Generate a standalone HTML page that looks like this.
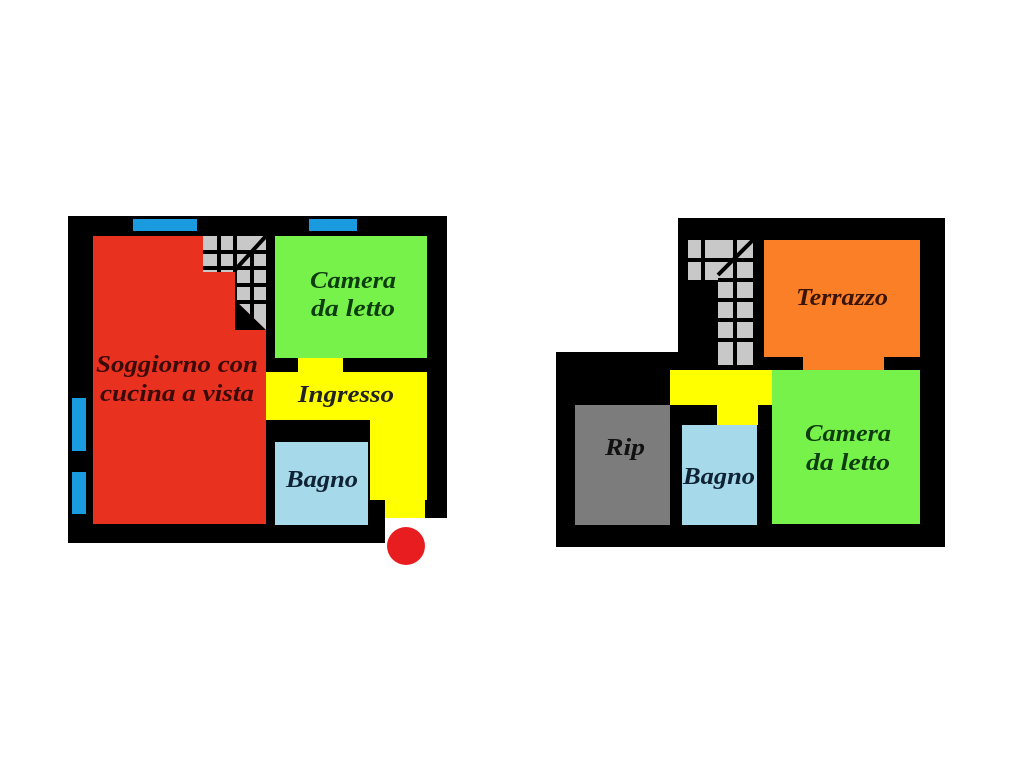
<!DOCTYPE html>
<html><head><meta charset="utf-8"><style>
html,body{margin:0;padding:0;background:#fff;}
svg{display:block}
text{font-family:"Liberation Serif",serif;font-weight:bold;font-style:italic;font-size:24px;text-anchor:middle}
</style></head><body>
<svg width="1024" height="768" viewBox="0 0 1024 768" xmlns="http://www.w3.org/2000/svg">
<rect width="1024" height="768" fill="#fff"/>
<!-- LEFT PLAN -->
<polygon points="68,216 447,216 447,518 423,518 423,500 385,500 385,543 68,543" fill="#000"/>
<rect x="385" y="500" width="40" height="18" fill="#ffff00"/>
<rect x="203" y="236" width="63" height="94" fill="#c8c8c8"/>
<g stroke="#000" stroke-width="4">
<line x1="203" y1="252" x2="266" y2="252"/><line x1="203" y1="268" x2="266" y2="268"/>
<line x1="235" y1="285" x2="266" y2="285"/><line x1="235" y1="302" x2="266" y2="302"/>
<line x1="219" y1="236" x2="219" y2="272"/><line x1="235" y1="236" x2="235" y2="330"/><line x1="252" y1="252" x2="252" y2="330"/>
<line x1="266" y1="236" x2="235" y2="270"/>
</g>
<polygon points="93,236 203,236 203,272 235,272 235,300 266,330 266,524 93,524" fill="#e8311f"/>
<polygon points="235,300 266,330 235,330" fill="#000"/>
<rect x="275" y="236" width="152" height="122" fill="#77f24b"/>
<rect x="298" y="358" width="45" height="14" fill="#ffff00"/>
<rect x="266" y="372" width="161" height="48" fill="#ffff00"/>
<rect x="370" y="420" width="57" height="80" fill="#ffff00"/>
<rect x="275" y="442" width="93" height="83" fill="#a6d9ea"/>
<rect x="133" y="219" width="64" height="12" fill="#1a9be0"/>
<rect x="309" y="219" width="48" height="12" fill="#1a9be0"/>
<rect x="72" y="398" width="14" height="53" fill="#1a9be0"/>
<rect x="72" y="472" width="14" height="42" fill="#1a9be0"/>
<circle cx="406" cy="546" r="19" fill="#e81d20"/>
<text x="353" y="288" fill="#0d3d0d" textLength="86" lengthAdjust="spacingAndGlyphs">Camera</text>
<text x="353" y="316" fill="#0d3d0d" textLength="84" lengthAdjust="spacingAndGlyphs">da letto</text>
<text x="177" y="372" fill="#3a0a08" textLength="162" lengthAdjust="spacingAndGlyphs">Soggiorno con</text>
<text x="177" y="401" fill="#3a0a08" textLength="154" lengthAdjust="spacingAndGlyphs">cucina a vista</text>
<text x="346" y="402" fill="#222" textLength="96" lengthAdjust="spacingAndGlyphs">Ingresso</text>
<text x="322" y="487" fill="#0e2233" textLength="72" lengthAdjust="spacingAndGlyphs">Bagno</text>
<!-- RIGHT PLAN -->
<polygon points="678,218 945,218 945,547 556,547 556,352 678,352" fill="#000"/>
<rect x="688" y="240" width="30" height="40" fill="#c8c8c8"/>
<rect x="718" y="240" width="35" height="125" fill="#c8c8c8"/>
<g stroke="#000" stroke-width="4">
<line x1="688" y1="260" x2="753" y2="260"/><line x1="718" y1="280" x2="753" y2="280"/>
<line x1="718" y1="300" x2="753" y2="300"/><line x1="718" y1="320" x2="753" y2="320"/><line x1="718" y1="340" x2="753" y2="340"/>
<line x1="703" y1="240" x2="703" y2="280"/><line x1="735" y1="240" x2="735" y2="365"/>
<line x1="753" y1="240" x2="718" y2="275"/>
</g>
<rect x="764" y="240" width="156" height="117" fill="#fb7f27"/>
<rect x="803" y="357" width="81" height="13" fill="#fb7f27"/>
<rect x="772" y="370" width="148" height="154" fill="#77f24b"/>
<rect x="670" y="370" width="102" height="35" fill="#ffff00"/>
<rect x="717" y="405" width="41" height="20" fill="#ffff00"/>
<rect x="575" y="405" width="95" height="120" fill="#7c7c7c"/>
<rect x="682" y="425" width="75" height="100" fill="#a6d9ea"/>
<text x="842" y="305" fill="#3a1405" textLength="92" lengthAdjust="spacingAndGlyphs">Terrazzo</text>
<text x="625" y="455" fill="#111" textLength="40" lengthAdjust="spacingAndGlyphs">Rip</text>
<text x="719" y="484" fill="#0e2233" textLength="72" lengthAdjust="spacingAndGlyphs">Bagno</text>
<text x="848" y="441" fill="#0d3d0d" textLength="86" lengthAdjust="spacingAndGlyphs">Camera</text>
<text x="848" y="470" fill="#0d3d0d" textLength="84" lengthAdjust="spacingAndGlyphs">da letto</text>
</svg>
</body></html>
